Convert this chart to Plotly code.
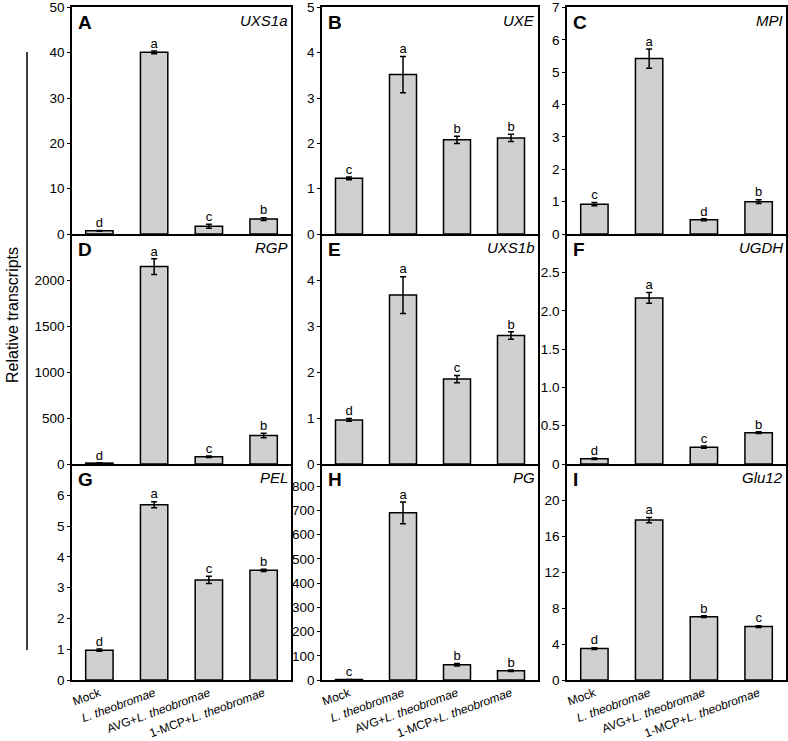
import plotly.graph_objects as go

# treatments (x categories)
groups = ['Mock', 'L. theobromae', 'AVG+L. theobromae', '1-MCP+L. theobromae']
group_ticktext = ['Mock', '<i>L. theobromae</i>', 'AVG+<i>L. theobromae</i>',
                  '1-MCP+<i>L. theobromae</i>']

# relative transcripts
uxs1a = [0.7, 40.1, 1.7, 3.3]
uxs1a_err = [0.1, 0.3, 0.45, 0.3]
uxs1a_sig = ['d', 'a', 'c', 'b']

uxe = [1.23, 3.52, 2.08, 2.12]
uxe_err = [0.03, 0.4, 0.08, 0.08]
uxe_sig = ['c', 'a', 'b', 'b']

mpi = [0.92, 5.42, 0.44, 1.0]
mpi_err = [0.05, 0.3, 0.03, 0.06]
mpi_sig = ['c', 'a', 'd', 'b']

rgp = [10, 2150, 80, 310]
rgp_err = [3, 85, 8, 25]
rgp_sig = ['d', 'a', 'c', 'b']

uxs1b = [0.96, 3.68, 1.85, 2.8]
uxs1b_err = [0.03, 0.4, 0.08, 0.08]
uxs1b_sig = ['d', 'a', 'c', 'b']

ugdh = [0.07, 2.17, 0.22, 0.41]
ugdh_err = [0.01, 0.07, 0.015, 0.01]
ugdh_sig = ['d', 'a', 'c', 'b']

pel = [0.97, 5.69, 3.25, 3.56]
pel_err = [0.04, 0.1, 0.12, 0.04]
pel_sig = ['d', 'a', 'c', 'b']

pg = [2, 690, 63, 38]
pg_err = [0.5, 45, 5, 3]
pg_sig = ['c', 'a', 'b', 'b']

glu12 = [3.5, 17.8, 7.05, 5.95]
glu12_err = [0.1, 0.3, 0.1, 0.1]
glu12_sig = ['d', 'a', 'b', 'c']

W, H = 788, 741
cols = [(72, 291), (322, 538), (567, 786)]
rows = [(7, 234), (234, 464), (464, 680)]

panels = [
    # letter, gene, values, errors, significance, y max, tickvals, ticktext
    ('A', 'UXS1a', uxs1a, uxs1a_err, uxs1a_sig, 50, [0, 10, 20, 30, 40, 50], None),
    ('B', 'UXE', uxe, uxe_err, uxe_sig, 5, [0, 1, 2, 3, 4, 5], None),
    ('C', 'MPI', mpi, mpi_err, mpi_sig, 7, [0, 1, 2, 3, 4, 5, 6, 7], None),
    ('D', 'RGP', rgp, rgp_err, rgp_sig, 2500, [0, 500, 1000, 1500, 2000], None),
    ('E', 'UXS1b', uxs1b, uxs1b_err, uxs1b_sig, 5, [0, 1, 2, 3, 4], None),
    ('F', 'UGDH', ugdh, ugdh_err, ugdh_sig, 3, [0, 0.5, 1, 1.5, 2, 2.5],
     ['0', '0.5', '1.0', '1.5', '2.0', '2.5']),
    ('G', 'PEL', pel, pel_err, pel_sig, 7, [0, 1, 2, 3, 4, 5, 6], None),
    ('H', 'PG', pg, pg_err, pg_sig, 890, [0, 100, 200, 300, 400, 500, 600, 700, 800], None),
    ('I', 'Glu12', glu12, glu12_err, glu12_sig, 24, [0, 4, 8, 12, 16, 20], None),
]

font = 'Liberation Sans, Arial, sans-serif'
fig = go.Figure()
layout = {}
annotations = []

for i, (letter, gene, vals, errs, sig, ymax, tv, tt) in enumerate(panels):
    r, c = divmod(i, 3)
    n = '' if i == 0 else str(i + 1)
    xa, ya = 'x' + n, 'y' + n

    fig.add_trace(go.Bar(
        x=groups, y=vals, xaxis=xa, yaxis=ya, width=0.5,
        marker=dict(color='#d0d0d0', line=dict(color='black', width=1.5)),
        error_y=dict(type='data', array=errs, color='black', thickness=1.5, width=3),
        showlegend=False))
    fig.add_trace(go.Scatter(
        x=groups, y=[v + e for v, e in zip(vals, errs)], xaxis=xa, yaxis=ya,
        mode='text', text=sig, textposition='top center', cliponaxis=False,
        textfont=dict(size=13, color='black', family=font), showlegend=False))

    x0, x1 = cols[c]
    y0, y1 = rows[r]
    # top border of rows 2 and 3 comes from the x axis line of the row above
    layout['xaxis' + n] = dict(
        domain=[x0 / W, x1 / W], anchor=ya, range=[-0.5, 3.5], automargin=False,
        showline=True, mirror=(r == 0), linecolor='black', linewidth=1.5,
        ticks='', showgrid=False, fixedrange=True,
        tickmode='array', tickvals=groups,
        ticktext=group_ticktext if r == 2 else [''] * 4,
        showticklabels=(r == 2), tickangle=-20, ticklabelstandoff=0,
        tickfont=dict(size=12, color='black', family=font))
    layout['yaxis' + n] = dict(
        domain=[1 - y1 / H, 1 - y0 / H], anchor=xa, range=[0, ymax * 1.002],
        automargin=False,
        showline=True, mirror=True, linecolor='black', linewidth=1.5,
        ticks='outside', ticklen=3, tickwidth=1.2, tickcolor='black',
        showgrid=False, zeroline=False, fixedrange=True,
        ticklabeloverflow='allow',
        tickmode='array', tickvals=tv, ticktext=tt if tt else [str(v) for v in tv],
        tickfont=dict(size=13.5, color='black', family=font))

    annotations.append(dict(
        text='<b>%s</b>' % letter, xref=xa + ' domain', yref=ya + ' domain',
        x=0.02, y=0.985, xanchor='left', yanchor='top', showarrow=False,
        font=dict(size=19, color='black', family=font)))
    annotations.append(dict(
        text='<i>%s</i>' % gene, xref=xa + ' domain', yref=ya + ' domain',
        x=0.995, y=0.985, xanchor='right', yanchor='top', showarrow=False,
        font=dict(size=15, color='black', family=font)))

annotations.append(dict(
    text='Relative transcripts', xref='paper', yref='paper',
    x=12 / W, y=1 - 315 / H, xanchor='center', yanchor='middle',
    textangle=-90, showarrow=False,
    font=dict(size=16, color='black', family=font)))

fig.update_layout(
    **layout,
    annotations=annotations,
    shapes=[dict(type='line', xref='paper', yref='paper',
                 x0=27 / W, x1=27 / W, y0=1 - 52 / H, y1=1 - 650 / H,
                 line=dict(color='black', width=1.5))],
    width=W, height=H,
    margin=dict(l=0, r=0, t=0, b=0, autoexpand=False),
    plot_bgcolor='white', paper_bgcolor='white',
    barmode='overlay',
)

# the page's default body margin would shift the 788x741 figure out of the window
fig.write_html('out.html', config={'displayModeBar': False},
               post_script="document.body.style.margin='0px';")
